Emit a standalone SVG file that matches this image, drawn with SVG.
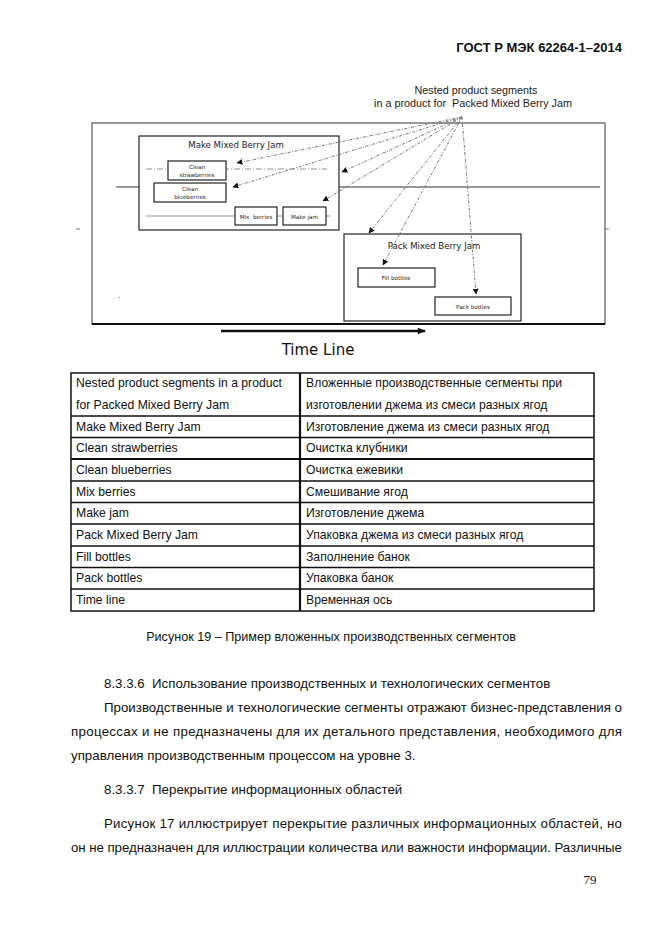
<svg xmlns="http://www.w3.org/2000/svg" width="662" height="935" viewBox="0 0 662 935">
<style>
.body{font-family:"Liberation Sans",Arial,sans-serif;font-size:13.3px;fill:#111}
.tbl{font-family:"Liberation Sans",Arial,sans-serif;font-size:12.2px;fill:#111}
.dia{font-family:"DejaVu Sans",Verdana,sans-serif;fill:#222}
.box{fill:#fff;stroke:#222;stroke-width:1.2}
.sbox{fill:#fff;stroke:#222;stroke-width:1.2}
.small{font-family:"DejaVu Sans",Verdana,sans-serif;font-size:5.6px;fill:#222;text-anchor:middle}
.conn{stroke:#777;stroke-width:1;stroke-dasharray:3 1.5 1 1.5;fill:none;marker-end:url(#ah)}
.grid{stroke:#111;stroke-width:1.3}
</style>
<defs>
<marker id="ah" viewBox="0 0 10 10" refX="9" refY="5" markerWidth="6" markerHeight="6" markerUnits="userSpaceOnUse" orient="auto">
<path d="M0,0 L10,5 L0,10 z" fill="#111"/>
</marker>
<marker id="tl" viewBox="0 0 10 10" refX="9" refY="5" markerWidth="9" markerHeight="8" markerUnits="userSpaceOnUse" orient="auto">
<path d="M0,1 L10,5 L0,9 z" fill="#111"/>
</marker>
</defs>
<rect width="662" height="935" fill="#fff"/>
<text x="622" y="52" text-anchor="end" style="font-family:'Liberation Sans',Arial,sans-serif;font-weight:bold;font-size:13px;fill:#111">ГОСТ Р МЭК 62264-1–2014</text>

<g id="frame">
<rect x="92" y="123" width="513" height="201" fill="none" stroke="#555" stroke-width="1.2"/>
<line x1="92" y1="324" x2="605" y2="324" stroke="#111" stroke-width="1.8"/>
<line x1="116" y1="187" x2="600" y2="187" stroke="#999" stroke-width="2"/>
<line x1="76" y1="229" x2="80" y2="229" stroke="#777" stroke-width="1"/>
<line x1="605" y1="229" x2="609" y2="229" stroke="#777" stroke-width="1"/>
<rect x="119" y="297" width="1" height="1" fill="#777"/>
</g>

<g id="note">
<text class="dia" x="476" y="94" text-anchor="middle" style="font-family:'Liberation Sans',Arial,sans-serif;font-size:10.8px">Nested product segments</text>
<text class="dia" x="473" y="107" text-anchor="middle" style="font-family:'Liberation Sans',Arial,sans-serif;font-size:10.8px" xml:space="preserve">in a product for  Packed Mixed Berry Jam</text>
</g>

<g id="make-mixed-berry-jam">
<rect class="box" x="139" y="136" width="200" height="94"/>
<text class="dia" x="236" y="148" text-anchor="middle" style="font-size:8.6px">Make Mixed Berry Jam</text>
<line x1="146" y1="169" x2="327" y2="169" stroke="#888" stroke-width="0.9" stroke-dasharray="6 2 1 2"/>
<line x1="146" y1="216" x2="330" y2="216" stroke="#888" stroke-width="0.9"/>
</g>
<g id="clean-strawberries">
<rect class="sbox" x="168" y="161" width="58" height="19"/>
<text class="small" x="197" y="168.5">Clean</text>
<text class="small" x="197" y="176.5">strawberries</text>
</g>
<g id="clean-blueberries">
<rect class="sbox" x="154" y="183" width="72" height="19"/>
<text class="small" x="190" y="190.5">Clean</text>
<text class="small" x="190" y="198.5">blueberries</text>
</g>
<g id="mix-berries">
<rect class="sbox" x="235" y="207" width="42" height="18"/>
<text class="small" x="256" y="218.5" xml:space="preserve">Mix  berries</text>
</g>
<g id="make-jam">
<rect class="sbox" x="283" y="207" width="43" height="18"/>
<text class="small" x="304.5" y="218.5">Make jam</text>
</g>
<g id="pack-mixed-berry-jam">
<rect class="box" x="344" y="234" width="177" height="87"/>
<text class="dia" x="434" y="249" text-anchor="middle" style="font-size:8.6px">Pack Mixed Berry Jam</text>
</g>
<g id="fill-bottles">
<rect class="sbox" x="358" y="268" width="77" height="19"/>
<text class="small" x="396" y="279.5">Fill bottles</text>
</g>
<g id="pack-bottles">
<rect class="sbox" x="435" y="297" width="76" height="18"/>
<text class="small" x="473" y="308.5">Pack bottles</text>
</g>

<g id="connectors">
<line class="conn" x1="462" y1="117" x2="237" y2="163"/>
<line class="conn" x1="462" y1="117" x2="233" y2="187"/>
<line class="conn" x1="462" y1="117" x2="342" y2="172"/>
<line class="conn" x1="462" y1="117" x2="323" y2="201"/>
<line class="conn" x1="462" y1="117" x2="369" y2="233"/>
<line class="conn" x1="462" y1="117" x2="383" y2="265"/>
<line class="conn" x1="462" y1="117" x2="476" y2="294"/>
</g>

<g id="timeline">
<line x1="221" y1="331" x2="425" y2="331" stroke="#111" stroke-width="2.6" marker-end="url(#tl)"/>
<text x="318" y="355" text-anchor="middle" style="font-family:'DejaVu Sans',Verdana,sans-serif;font-size:15px;fill:#111">Time Line</text>
</g>

<g id="table">
<rect x="71" y="373" width="523" height="238" fill="none" stroke="#111" stroke-width="1.5"/>
<line class="grid" x1="300" y1="373" x2="300" y2="611" style="stroke-width:2.2"/>
<line class="grid" x1="71" y1="416" x2="594" y2="416"/>
<line class="grid" x1="71" y1="437.5" x2="594" y2="437.5"/>
<line class="grid" x1="71" y1="459" x2="594" y2="459" style="stroke-width:2"/>
<line class="grid" x1="71" y1="481" x2="594" y2="481"/>
<line class="grid" x1="71" y1="502.5" x2="594" y2="502.5"/>
<line class="grid" x1="71" y1="524" x2="594" y2="524"/>
<line class="grid" x1="71" y1="546" x2="594" y2="546"/>
<line class="grid" x1="71" y1="567.5" x2="594" y2="567.5"/>
<line class="grid" x1="71" y1="589" x2="594" y2="589"/>
<text class="tbl" x="76" y="387">Nested product segments in a product</text>
<text class="tbl" x="76" y="408.5">for Packed Mixed Berry Jam</text>
<text class="tbl" x="76" y="430.5">Make Mixed Berry Jam</text>
<text class="tbl" x="76" y="452">Clean strawberries</text>
<text class="tbl" x="76" y="474">Clean blueberries</text>
<text class="tbl" x="76" y="495.5">Mix berries</text>
<text class="tbl" x="76" y="517">Make jam</text>
<text class="tbl" x="76" y="539">Pack Mixed Berry Jam</text>
<text class="tbl" x="76" y="560.5">Fill bottles</text>
<text class="tbl" x="76" y="582">Pack bottles</text>
<text class="tbl" x="76" y="604">Time line</text>
<text class="tbl" x="306" y="387">Вложенные производственные сегменты при</text>
<text class="tbl" x="306" y="408.5">изготовлении джема из смеси разных ягод</text>
<text class="tbl" x="306" y="430.5">Изготовление джема из смеси разных ягод</text>
<text class="tbl" x="306" y="452">Очистка клубники</text>
<text class="tbl" x="306" y="474">Очистка ежевики</text>
<text class="tbl" x="306" y="495.5">Смешивание ягод</text>
<text class="tbl" x="306" y="517">Изготовление джема</text>
<text class="tbl" x="306" y="539">Упаковка джема из смеси разных ягод</text>
<text class="tbl" x="306" y="560.5">Заполнение банок</text>
<text class="tbl" x="306" y="582">Упаковка банок</text>
<text class="tbl" x="306" y="604">Временная ось</text>
</g>

<text class="body" x="331" y="641" text-anchor="middle" style="font-size:12.6px">Рисунок 19 – Пример вложенных производственных сегментов</text>
<text class="body" x="104" y="688" xml:space="preserve">8.3.3.6  Использование производственных и технологических сегментов</text>
<text class="body" x="104" y="712" textLength="518" lengthAdjust="spacing">Производственные и технологические сегменты отражают бизнес-представления о</text>
<text class="body" x="71" y="736" textLength="551" lengthAdjust="spacing">процессах и не предназначены для их детального представления, необходимого для</text>
<text class="body" x="71" y="760">управления производственным процессом на уровне 3.</text>
<text class="body" x="104" y="794" xml:space="preserve">8.3.3.7  Перекрытие информационных областей</text>
<text class="body" x="104" y="828" textLength="518" lengthAdjust="spacing">Рисунок 17 иллюстрирует перекрытие различных информационных областей, но</text>
<text class="body" x="71" y="852" textLength="551" lengthAdjust="spacing">он не предназначен для иллюстрации количества или важности информации. Различные</text>
<text x="590" y="884" text-anchor="middle" style="font-family:'Liberation Serif','Times New Roman',serif;font-size:13px;fill:#111">79</text>
</svg>
